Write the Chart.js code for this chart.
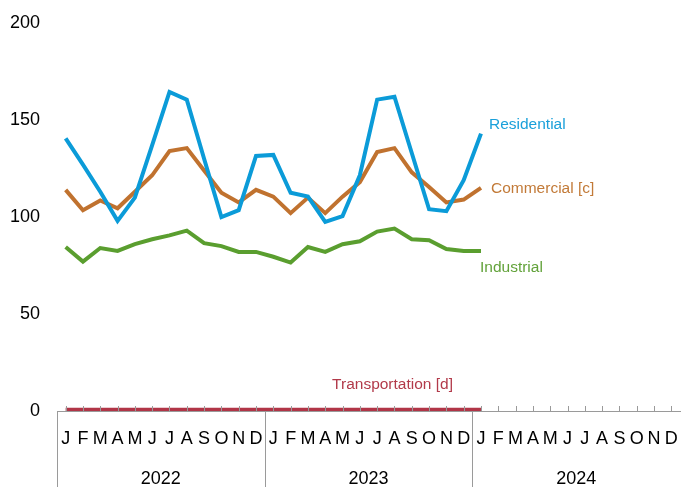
<!DOCTYPE html>
<html>
<head>
<meta charset="utf-8">
<script src="https://cdn.jsdelivr.net/npm/chart.js@4/dist/chart.umd.min.js"></script>
<style>
html,body{margin:0;padding:0;background:#fff;}
#wrap{width:681px;height:487px;position:relative;}
</style>
</head>
<body>
<div id="wrap"><canvas id="c" width="681" height="487"></canvas></div>
<script>
const years = ['2022', '2023', '2024'];
const monthLetters = ['J','F','M','A','M','J','J','A','S','O','N','D'];
const yTicks = [0, 50, 100, 150, 200];

const seriesNames = ['Residential', 'Commercial [c]', 'Industrial', 'Transportation [d]'];
const residential = [140.5, 127, 113, 98, 110, 137, 164.5, 160.5, 130, 100, 103.5, 131.5, 132, 112.5, 110.5, 97.5, 100.5, 121.5, 160.5, 162, 133, 104, 103, 119, 143];
const commercial  = [114, 103.5, 108.5, 104.5, 113, 121.5, 134, 135.5, 124, 112.5, 107.5, 114, 110.5, 102, 110, 102, 110.5, 118, 133.5, 135.5, 123, 115.5, 107.5, 109, 115];
const industrial  = [84.5, 77, 84, 82.5, 86, 88.5, 90.5, 93, 86.5, 85, 82, 82, 79.5, 76.5, 84.5, 82, 86, 87.5, 92.5, 94, 88.5, 88, 83.5, 82.5, 82.5];
const transportation = [0.7,0.7,0.7,0.7,0.7,0.7,0.7,0.7,0.7,0.7,0.7,0.7,0.7,0.7,0.7,0.7,0.7,0.7,0.7,0.7,0.7,0.7,0.7,0.7,0.7];

const categories = [];
years.forEach(y => monthLetters.forEach(m => categories.push(m)));

const colors = ['#0B9BD8', '#C0722F', '#5A9E2F', '#B13547'];
const textColors = ['#1AA0DA', '#C27A38', '#62A23A', '#B23A4A'];
const labelOffsets = [
  {dx: 8, dy: -9, align: 'left'},
  {dx: 10, dy: 1, align: 'left'},
  {dx: -1, dy: 17, align: 'left'},
  {dx: -28, dy: -25, align: 'right'}
];

const FONT = '"Liberation Sans", Arial, sans-serif';

const overlay = {
  id: 'overlay',
  afterDraw(chart) {
    const ctx = chart.ctx;
    const xs = chart.scales.x;
    const area = chart.chartArea;
    const bottom = area.bottom;
    const step = (xs.getPixelForValue(1) - xs.getPixelForValue(0));
    ctx.save();
    ctx.strokeStyle = '#9A9A9A';
    ctx.lineWidth = 1;
    for (let i = 0; i < categories.length; i++) {
      const px = Math.round(xs.getPixelForValue(i)) + 0.5;
      ctx.beginPath();
      ctx.moveTo(px, bottom);
      ctx.lineTo(px, bottom - 5);
      ctx.stroke();
    }
    for (let k = 0; k < years.length; k++) {
      const px = Math.round(xs.getPixelForValue(k * 12) - step / 2) + 0.5;
      ctx.beginPath();
      ctx.moveTo(px, bottom);
      ctx.lineTo(px, chart.height);
      ctx.stroke();
    }
    ctx.fillStyle = '#000';
    ctx.font = '18px ' + FONT;
    ctx.textAlign = 'center';
    ctx.textBaseline = 'middle';
    years.forEach((y, k) => {
      const cx = (xs.getPixelForValue(k * 12) + xs.getPixelForValue(k * 12 + 11)) / 2;
      ctx.fillText(y, cx, bottom + 68);
    });
    ctx.font = '15.5px ' + FONT;
    chart.data.datasets.forEach((ds, i) => {
      const meta = chart.getDatasetMeta(i);
      const last = meta.data[meta.data.length - 1];
      const o = labelOffsets[i];
      ctx.fillStyle = textColors[i];
      ctx.textAlign = o.align;
      ctx.fillText(seriesNames[i], last.x + o.dx, last.y + o.dy);
    });
    ctx.restore();
  }
};

const mk = (data, i) => ({
  label: seriesNames[i],
  data: data,
  borderColor: colors[i],
  backgroundColor: colors[i],
  borderWidth: 4,
  pointRadius: 0,
  tension: 0,
  fill: false,
  borderJoinStyle: 'miter',
  borderCapStyle: 'butt'
});

new Chart(document.getElementById('c'), {
  type: 'line',
  data: {
    labels: categories,
    datasets: [mk(residential, 0), mk(commercial, 1), mk(industrial, 2), mk(transportation, 3)]
  },
  options: {
    responsive: false,
    animation: false,
    layout: {padding: {top: 23, right: 1, left: 0, bottom: 0}},
    plugins: {legend: {display: false}, tooltip: {enabled: false}},
    scales: {
      x: {
        type: 'category',
        offset: true,
        grid: {display: false, drawTicks: false},
        border: {display: true, color: '#9A9A9A', width: 1},
        ticks: {
          autoSkip: false, maxRotation: 0, minRotation: 0,
          color: '#000', font: {size: 18, family: FONT}, padding: 17
        },
        afterFit(scale) { scale.height = 76; scale.paddingLeft = 0; scale.paddingRight = 0; }
      },
      y: {
        min: 0, max: 200,
        afterBuildTicks(scale) { scale.ticks = yTicks.map(v => ({value: v})); },
        grid: {display: false, drawTicks: false},
        border: {display: false},
        ticks: {color: '#000', font: {size: 18, family: FONT}, padding: 17},
        afterFit(scale) { scale.width = 57; scale.paddingTop = 0; scale.paddingBottom = 0; }
      }
    }
  },
  plugins: [overlay]
});
</script>
</body>
</html>
